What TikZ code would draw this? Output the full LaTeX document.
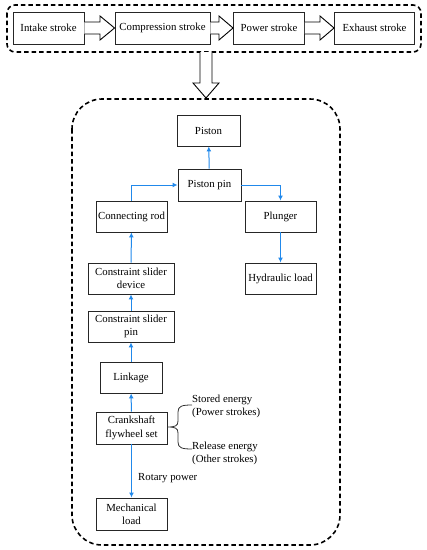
\documentclass[tikz,border=0pt]{standalone}
\usepackage{fontspec}
\setmainfont{Liberation Serif}
\usetikzlibrary{arrows.meta,shapes.arrows}
\definecolor{flowblue}{RGB}{33,137,235}
\begin{document}
\begin{tikzpicture}[x=1pt,y=-1pt,
  box/.style={draw=black!85,line width=0.9pt,fill=white,inner sep=0pt,align=center,
    font=\fontsize{10.8}{13.3}\selectfont},
  flow/.style={draw=flowblue,line width=1pt,-{Latex[length=5pt,width=5pt]}},
  dashbox/.style={draw=black,line width=1.6pt,dash pattern=on 4.5pt off 3pt},
  lbl/.style={font=\fontsize{10.8}{13.3}\selectfont,inner sep=0pt,align=left}]
\useasboundingbox (0,0) rectangle (427,550);
% top dashed group
\draw[dashbox,rounded corners=8pt] (7,5) rectangle (421,52);
\node[box,minimum width=71pt,minimum height=32pt] (intake) at (48.5,28) {Intake stroke};
\node[box,minimum width=95pt,minimum height=32pt] (comp) at (162.5,28) {Compression stroke};
\node[box,minimum width=71pt,minimum height=32pt] (power) at (269,28) {Power stroke};
\node[box,minimum width=80pt,minimum height=32pt] (exhaust) at (374.5,28) {Exhaust stroke};
% hollow arrows
\draw[line width=0.9pt,fill=white] (intake.east |- 0,22) -- (100,22) -- (100,16) -- (comp.west) -- (100,40) -- (100,34) -- (intake.east |- 0,34);
\draw[line width=0.9pt,fill=white] (comp.east |- 0,22) -- (219,22) -- (219,16) -- (power.west) -- (219,40) -- (219,34) -- (comp.east |- 0,34);
\draw[line width=0.9pt,fill=white] (power.east |- 0,22) -- (320,22) -- (320,16) -- (exhaust.west) -- (320,40) -- (320,34) -- (power.east |- 0,34);
% down hollow arrow
\coordinate (dtop) at (206,52);
\coordinate (dtip) at (206,98);
\draw[line width=0.9pt,fill=white] (200,52) -- (200,83) -- (193,83) -- (dtip) -- (219,83) -- (212,83) -- (212,52);
% bottom dashed group
\draw[dashbox,rounded corners=30pt] (72,99) rectangle (340,545);
% nodes
\node[box,minimum width=63pt,minimum height=31pt] (piston) at (208.5,130.5) {Piston};
\node[box,minimum width=63pt,minimum height=32pt] (pin) at (209.5,185) {Piston pin};
\node[box,minimum width=71pt,minimum height=31pt] (rod) at (131.5,216.5) {Connecting rod};
\node[box,minimum width=71pt,minimum height=31pt] (plunger) at (280.5,216.5) {Plunger};
\node[box,minimum width=86pt,minimum height=31pt] (csd) at (131,278.5) {Constraint slider\\device};
\node[box,minimum width=71pt,minimum height=31pt] (hyd) at (280.5,278.5) {Hydraulic load};
\node[box,minimum width=86pt,minimum height=31pt] (csp) at (131,326.5) {Constraint slider\\pin};
\node[box,minimum width=62pt,minimum height=31pt] (link) at (131,377.5) {Linkage};
\node[box,minimum width=71pt,minimum height=32pt] (crank) at (131.5,428) {Crankshaft\\flywheel set};
\node[box,minimum width=71pt,minimum height=32pt] (mech) at (131.5,514) {Mechanical\\load};
% connectors
\draw[flow] (pin) -- (piston);
\draw[flow] (rod.north) |- (pin.west);
\draw[flow] (pin.east) -| (plunger.north);
\draw[flow] (plunger) -- (hyd);
\draw[flow] (csd) -- (rod);
\draw[flow] (csp) -- (csd);
\draw[flow] (link) -- (csp);
\draw[flow] (crank) -- (link);
\draw[flow] (crank) -- (mech);
\node[lbl,anchor=west] (rot) at (138,478) {Rotary power};
% brace
\coordinate (btop) at (192,405);
\coordinate (bbot) at (192,449);
\draw[line width=0.8pt,black!80] (btop) .. controls (182,405) and (178,406) .. (178,412) -- (178,421)
  .. controls (178,426) and (175,427) .. (crank.east |- 0,427)
  (crank.east |- 0,427) .. controls (175,427) and (178,428) .. (178,433) -- (178,442)
  .. controls (178,448) and (182,449) .. (bbot);
\node[lbl,anchor=west] (stored) at (192,406.5) {Stored energy\\(Power strokes)};
\node[lbl,anchor=west] (release) at (192,453.5) {Release energy\\(Other strokes)};
\end{tikzpicture}
\end{document}
